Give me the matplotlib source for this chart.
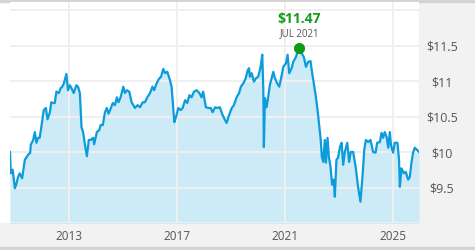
import matplotlib.pyplot as plt
from matplotlib.patches import Rectangle
import numpy as np

plt.rcParams['font.family'] = ['Open Sans', 'DejaVu Sans']

# price history (decimal year, price in $)
years = [2010.81, 2010.84, 2010.91, 2010.99, 2011.04, 2011.11, 2011.17, 2011.26, 2011.36, 2011.48,
         2011.56, 2011.58, 2011.67, 2011.73, 2011.79, 2011.85, 2011.91, 2011.97, 2012.06, 2012.14,
         2012.20, 2012.29, 2012.34, 2012.41, 2012.47, 2012.53, 2012.62, 2012.69, 2012.75, 2012.81,
         2012.90, 2012.96, 2013.03, 2013.09, 2013.17, 2013.27, 2013.33, 2013.40, 2013.46, 2013.52,
         2013.60, 2013.66, 2013.73, 2013.80, 2013.89, 2013.93, 2014.03, 2014.12, 2014.17, 2014.25,
         2014.33, 2014.40, 2014.46, 2014.52, 2014.62, 2014.70, 2014.77, 2014.83, 2014.91, 2015.01,
         2015.07, 2015.14, 2015.23, 2015.32, 2015.44, 2015.54, 2015.63, 2015.73, 2015.81, 2015.90,
         2016.00, 2016.09, 2016.15, 2016.25, 2016.33, 2016.41, 2016.49, 2016.56, 2016.64, 2016.74,
         2016.80, 2016.86, 2016.90, 2016.96, 2017.05, 2017.14, 2017.21, 2017.30, 2017.38, 2017.46,
         2017.54, 2017.63, 2017.73, 2017.83, 2017.91, 2017.97, 2018.07, 2018.16, 2018.25, 2018.32,
         2018.41, 2018.49, 2018.59, 2018.69, 2018.78, 2018.84, 2018.93, 2019.03, 2019.11, 2019.21,
         2019.30, 2019.37, 2019.46, 2019.54, 2019.62, 2019.67, 2019.70, 2019.77, 2019.85, 2019.93,
         2020.01, 2020.10, 2020.16, 2020.20, 2020.22, 2020.26, 2020.32, 2020.38, 2020.44, 2020.51,
         2020.57, 2020.63, 2020.71, 2020.79, 2020.88, 2020.94, 2021.04, 2021.10, 2021.16, 2021.25,
         2021.31, 2021.41, 2021.47, 2021.53, 2021.62, 2021.70, 2021.78, 2021.86, 2021.95, 2022.01,
         2022.07, 2022.15, 2022.21, 2022.26, 2022.32, 2022.37, 2022.42, 2022.48, 2022.52, 2022.58,
         2022.63, 2022.69, 2022.75, 2022.81, 2022.85, 2022.91, 2022.97, 2023.04, 2023.10, 2023.16,
         2023.22, 2023.31, 2023.38, 2023.44, 2023.53, 2023.63, 2023.71, 2023.80, 2023.88, 2023.94,
         2024.00, 2024.09, 2024.17, 2024.27, 2024.36, 2024.42, 2024.52, 2024.58, 2024.64, 2024.70,
         2024.77, 2024.83, 2024.89, 2024.93, 2025.01, 2025.07, 2025.17, 2025.23, 2025.26, 2025.32,
         2025.41, 2025.48, 2025.57, 2025.63, 2025.69, 2025.75, 2025.81, 2025.90, 2025.97]
prices = [10.00, 9.70, 9.75, 9.49, 9.54, 9.65, 9.70, 9.63, 9.89, 9.96,
          9.99, 10.10, 10.17, 10.28, 10.13, 10.20, 10.20, 10.35, 10.59, 10.62,
          10.46, 10.56, 10.70, 10.69, 10.69, 10.85, 10.83, 10.90, 10.92, 10.97,
          11.10, 10.87, 10.94, 10.90, 10.83, 10.94, 10.92, 10.83, 10.35, 10.28,
          10.07, 9.94, 10.17, 10.17, 10.20, 10.11, 10.28, 10.31, 10.38, 10.38,
          10.56, 10.62, 10.54, 10.59, 10.69, 10.66, 10.77, 10.70, 10.77, 10.92,
          10.83, 10.87, 10.85, 10.70, 10.62, 10.66, 10.63, 10.70, 10.70, 10.77,
          10.83, 10.92, 10.87, 10.97, 11.03, 11.06, 11.17, 11.11, 11.13, 11.01,
          10.92, 10.63, 10.42, 10.49, 10.62, 10.59, 10.62, 10.73, 10.69, 10.80,
          10.77, 10.85, 10.87, 10.83, 10.77, 10.85, 10.63, 10.62, 10.62, 10.56,
          10.63, 10.62, 10.63, 10.52, 10.45, 10.41, 10.52, 10.62, 10.66, 10.77,
          10.83, 10.92, 10.97, 11.03, 11.15, 11.18, 11.06, 11.11, 10.99, 11.04,
          11.06, 11.20, 11.37, 10.87, 10.07, 10.76, 10.63, 10.77, 10.94, 11.04,
          11.13, 11.04, 10.97, 10.92, 11.08, 11.20, 11.25, 11.37, 11.11, 11.18,
          11.27, 11.34, 11.41, 11.47, 11.39, 11.34, 11.20, 11.27, 11.28, 11.11,
          10.97, 10.77, 10.59, 10.41, 10.20, 9.93, 9.86, 10.17, 9.85, 10.20,
          9.93, 9.79, 9.54, 9.61, 9.37, 9.89, 9.92, 10.07, 10.13, 9.82,
          10.00, 10.13, 9.86, 10.00, 10.00, 9.77, 9.51, 9.30, 9.68, 10.03,
          10.17, 10.14, 10.17, 10.00, 9.99, 10.13, 10.14, 10.27, 10.20, 10.28,
          10.21, 10.06, 10.28, 10.10, 9.99, 10.13, 10.13, 9.89, 9.51, 9.77,
          9.70, 9.72, 9.61, 9.65, 9.85, 9.99, 10.06, 10.03, 10.00]

peak_year = 2021.53
peak_price = 11.47
peak_label = 'JUL 2021'

ytick_vals = [9.0, 9.5, 10.0, 10.5, 11.0, 11.5, 12.0]
ytick_labels = ['', '$9.5', '$10', '$10.5', '$11', '$11.5', '']
xtick_vals = [2013, 2017, 2021, 2025]
xtick_labels = ['2013', '2017', '2021', '2025']

W, H = 475, 250
fig = plt.figure(figsize=(4.75, 2.5), dpi=100, facecolor='white')

# grey panels (right scale area, bottom band, borders)
fig.patches.append(Rectangle((419 / W, 0), 56 / W, 1, transform=fig.transFigure,
                             color='#f2f2f2', zorder=-5))
fig.patches.append(Rectangle((0, 0), 1, 27 / H, transform=fig.transFigure,
                             color='#f2f2f2', zorder=-5))
fig.patches.append(Rectangle((0, 0), 1, 3 / H, transform=fig.transFigure,
                             color='#d4d4d4', zorder=-4))
fig.patches.append(Rectangle((0, 1 - 2 / H), 1, 2 / H, transform=fig.transFigure,
                             color='#d4d4d4', zorder=-4))

ax = fig.add_axes([10 / W, 27 / H, 409 / W, 221 / H])
ax.set_facecolor('white')

x = np.array(years)
y = np.array(prices)
ax.fill_between(x, 8.0, y, color='#cdeaf7', lw=0, zorder=1)
ax.plot(x, y, color='#0c9bdb', lw=1.6, zorder=3, solid_joinstyle='round')
ax.plot([peak_year], [peak_price], 'o', color='#0e9a12', ms=7, zorder=4)

ax.text(peak_year, peak_price + 0.40, '${:.2f}'.format(peak_price), color='#169c16',
        fontsize=10, fontweight='bold', ha='center', va='center', zorder=5)
ax.text(peak_year, peak_price + 0.20, peak_label, color='#555555',
        fontsize=7, ha='center', va='center', zorder=5)

ax.set_xlim(years[0], years[-1])
ax.set_ylim(9.0, 12.0 + 8 / 71)

ax.set_yticks(ytick_vals)
ax.set_yticklabels(ytick_labels)
ax.yaxis.tick_right()
for lbl in ax.get_yticklabels():
    lbl.set_horizontalalignment('center')
ax.tick_params(axis='y', length=0, pad=16.5, labelsize=9, labelcolor='#555555')

ax.set_xticks(xtick_vals)
ax.set_xticklabels(xtick_labels)
ax.tick_params(axis='x', length=0, pad=5, labelsize=8.5, labelcolor='#555555')

ax.grid(True, color='#f0f0f0', lw=1.4, zorder=2)
ax.set_axisbelow(False)
for s in ax.spines.values():
    s.set_visible(False)

fig.savefig('out.png', dpi=100)
